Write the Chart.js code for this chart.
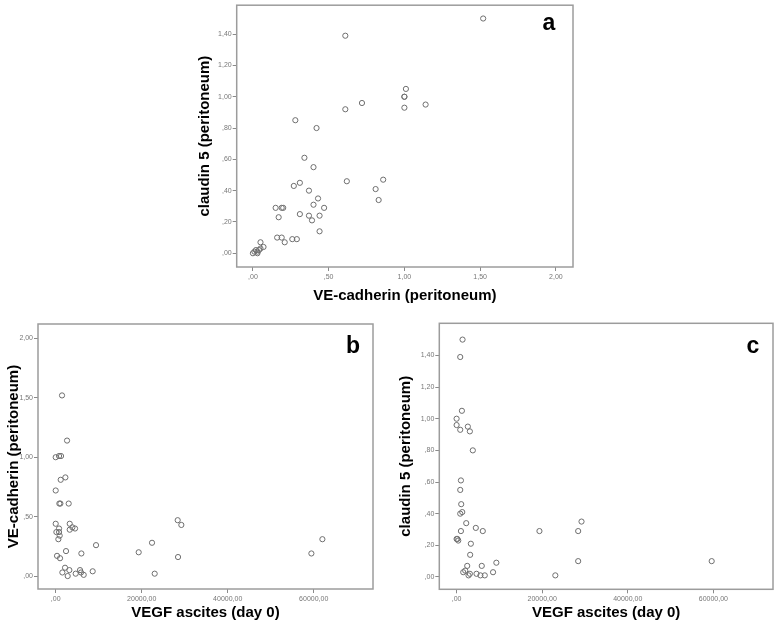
<!DOCTYPE html>
<html>
<head>
<meta charset="utf-8">
<script src="https://cdn.jsdelivr.net/npm/chart.js@4/dist/chart.umd.min.js"></script>
<style>
body{margin:0;background:#fff;width:778px;height:627px;overflow:hidden;position:relative;}
.panel{position:absolute;}
</style>
</head>
<body>
<div class="panel" style="left:180px;top:0px;"><canvas id="chartA" width="400" height="310"></canvas></div>
<div class="panel" style="left:0px;top:300px;"><canvas id="chartB" width="390" height="327"></canvas></div>
<div class="panel" style="left:390px;top:300px;"><canvas id="chartC" width="388" height="327"></canvas></div>
<script>
// ---- data: panel a (VE-cadherin vs claudin 5)
var aVEcadherin=[1.52,0.61,1.01,1.00,1.00,1.00,0.72,1.14,0.61,0.28,0.42,0.34,0.40,0.62,0.86,0.27,0.31,0.37,0.81,0.83,0.43,0.40,0.47,0.15,0.19,0.20,0.17,0.31,0.37,0.44,0.39,0.44,0.16,0.19,0.21,0.26,0.29,0.05,0.07,0.00,0.01,0.03,0.04,0.03,0.05,0.02];
var aClaudin=[1.50,1.39,1.05,1.00,1.00,0.93,0.96,0.95,0.92,0.85,0.80,0.61,0.55,0.46,0.47,0.43,0.45,0.40,0.41,0.34,0.35,0.31,0.29,0.29,0.29,0.29,0.23,0.25,0.24,0.24,0.21,0.14,0.10,0.10,0.07,0.09,0.09,0.07,0.04,0.00,0.01,0.01,0.02,0.00,0.03,0.02];
// ---- data: panel b (VEGF vs VE-cadherin)
var bVEGF=[1470,2640,0,780,1240,1160,2250,0,850,1090,3020,0,3260,3880,4500,3260,160,780,780,930,620,310,1010,2400,5970,9380,2170,1550,2790,3180,4650,5660,5890,6510,8600,19300,22400,23020,28370,29220,28450,59460,62020];
var bVEcadherin=[1.52,1.14,1.00,1.01,1.01,0.81,0.83,0.72,0.61,0.61,0.61,0.44,0.44,0.41,0.40,0.39,0.37,0.40,0.37,0.34,0.31,0.17,0.15,0.21,0.19,0.26,0.07,0.03,0.00,0.05,0.02,0.05,0.03,0.01,0.04,0.20,0.28,0.02,0.47,0.43,0.16,0.19,0.31];
// ---- data: panel c (VEGF vs claudin 5)
var cVEGF=[1390,850,1240,0,0,850,2630,3100,3790,1010,850,1080,850,1320,2250,1010,4490,6120,0,390,3330,3170,2480,5880,9290,1550,8520,4650,5570,6580,2790,3100,2010,19360,28410,29190,28410,23070,59610,200];
var cClaudin=[1.50,1.39,1.05,1.00,0.96,0.93,0.95,0.92,0.80,0.61,0.55,0.46,0.40,0.41,0.34,0.29,0.31,0.29,0.24,0.23,0.21,0.14,0.07,0.07,0.09,0.03,0.03,0.02,0.01,0.01,0.01,0.02,0.04,0.29,0.29,0.35,0.10,0.01,0.10,0.24];
// ---- tick values and labels
var aXTicks=[0,0.5,1,1.5,2];
var aXLabels=[",00",",50","1,00","1,50","2,00"];
var aYTicks=[0,0.2,0.4,0.6,0.8,1.0,1.2,1.4];
var aYLabels=[",00",",20",",40",",60",",80","1,00","1,20","1,40"];
var vegfTicks=[0,20000,40000,60000];
var vegfLabels=[",00","20000,00","40000,00","60000,00"];
var bYTicks=[0,0.5,1,1.5,2];
var bYLabels=[",00",",50","1,00","1,50","2,00"];
var cYTicks=aYTicks;
var cYLabels=aYLabels;

var FONT='"Liberation Sans", Arial, sans-serif';

// frame round the plot area + panel letter
var framePlugin={
  id:"frame",
  afterDraw:function(chart,args,opts){
    var a=chart.chartArea;
    var ctx=chart.ctx;
    ctx.save();
    ctx.strokeStyle="#9c9c9c";
    ctx.lineWidth=1.5;
    ctx.strokeRect(a.left,a.top,a.right-a.left,a.bottom-a.top);
    ctx.fillStyle="#000";
    ctx.font="bold 23px "+FONT;
    ctx.textAlign="center";
    ctx.textBaseline="alphabetic";
    ctx.fillText(opts.letter,a.right-opts.dx,a.top+opts.dy);
    ctx.restore();
  }
};

function toPoints(xs,ys){
  var pts=[];
  for(var i=0;i<xs.length;i++){
    pts.push({x:xs[i],y:ys[i]});
  }
  return pts;
}

function makeChart(id,xs,ys,cfg){
  new Chart(document.getElementById(id),{
    type:"scatter",
    data:{
      datasets:[{
        data:toPoints(xs,ys),
        pointStyle:"circle",
        pointRadius:2.6,
        pointBorderWidth:1,
        borderColor:"#6e6e6e",
        backgroundColor:"rgba(0,0,0,0)"
      }]
    },
    plugins:[framePlugin],
    options:{
      responsive:false,
      animation:false,
      events:[],
      layout:{padding:{top:cfg.padTop,right:cfg.padRight,left:0,bottom:0}},
      plugins:{
        legend:{display:false},
        tooltip:{enabled:false},
        frame:{letter:cfg.letter,dx:cfg.letterDx,dy:cfg.letterDy}
      },
      scales:{
        x:{
          type:"linear",
          min:cfg.xMin,max:cfg.xMax,
          afterFit:function(scale){scale.height=cfg.xHeight;},
          afterBuildTicks:function(scale){scale.ticks=cfg.xTicks.map(function(v){return {value:v};});},
          grid:{drawOnChartArea:false,drawTicks:true,tickLength:4,color:"#8a8a8a"},
          border:{display:false},
          ticks:{
            autoSkip:false,maxRotation:0,padding:2,color:"#777",
            font:{family:FONT,size:7},
            callback:function(v,i){return cfg.xLabels[i];}
          },
          title:{display:true,text:cfg.xTitle,color:"#000",font:{family:FONT,size:15,weight:"bold"},padding:{top:0,bottom:5}}
        },
        y:{
          type:"linear",
          min:cfg.yMin,max:cfg.yMax,
          afterFit:function(scale){scale.width=cfg.yWidth;},
          afterBuildTicks:function(scale){scale.ticks=cfg.yTicks.map(function(v){return {value:v};});},
          grid:{drawOnChartArea:false,drawTicks:true,tickLength:4,color:"#8a8a8a"},
          border:{display:false},
          ticks:{
            autoSkip:false,padding:1,color:"#777",
            font:{family:FONT,size:7},
            callback:function(v,i){return cfg.yLabels[i];}
          },
          title:{display:true,text:cfg.yTitle,color:"#000",font:{family:FONT,size:15,weight:"bold"},padding:{top:cfg.yTitlePad,bottom:0}}
        }
      }
    }
  });
}

makeChart("chartA",aVEcadherin,aClaudin,{
  xMin:-0.107,xMax:2.113,yMin:-0.088,yMax:1.585,
  xTicks:aXTicks,xLabels:aXLabels,yTicks:aYTicks,yLabels:aYLabels,
  xTitle:"VE-cadherin (peritoneum)",yTitle:"claudin 5 (peritoneum)",
  yWidth:56.7,xHeight:43,padTop:2,padRight:7,yTitlePad:16,
  letter:"a",letterDx:24,letterDy:25
});
makeChart("chartB",bVEGF,bVEcadherin,{
  xMin:-4116,xMax:73790,yMin:-0.109,yMax:2.121,
  xTicks:vegfTicks,xLabels:vegfLabels,yTicks:bYTicks,yLabels:bYLabels,
  xTitle:"VEGF ascites (day 0)",yTitle:"VE-cadherin (peritoneum)",
  yWidth:38,xHeight:38,padTop:24,padRight:17,yTitlePad:4.5,
  letter:"b",letterDx:20,letterDy:29
});
makeChart("chartC",cVEGF,cClaudin,{
  xMin:-4042,xMax:73937,yMin:-0.078,yMax:1.603,
  xTicks:vegfTicks,xLabels:vegfLabels,yTicks:cYTicks,yLabels:cYLabels,
  xTitle:"VEGF ascites (day 0)",yTitle:"claudin 5 (peritoneum)",
  yWidth:49.3,xHeight:37.7,padTop:23.3,padRight:3,yTitlePad:6.5,
  letter:"c",letterDx:20,letterDy:29.7
});
</script>
</body>
</html>
